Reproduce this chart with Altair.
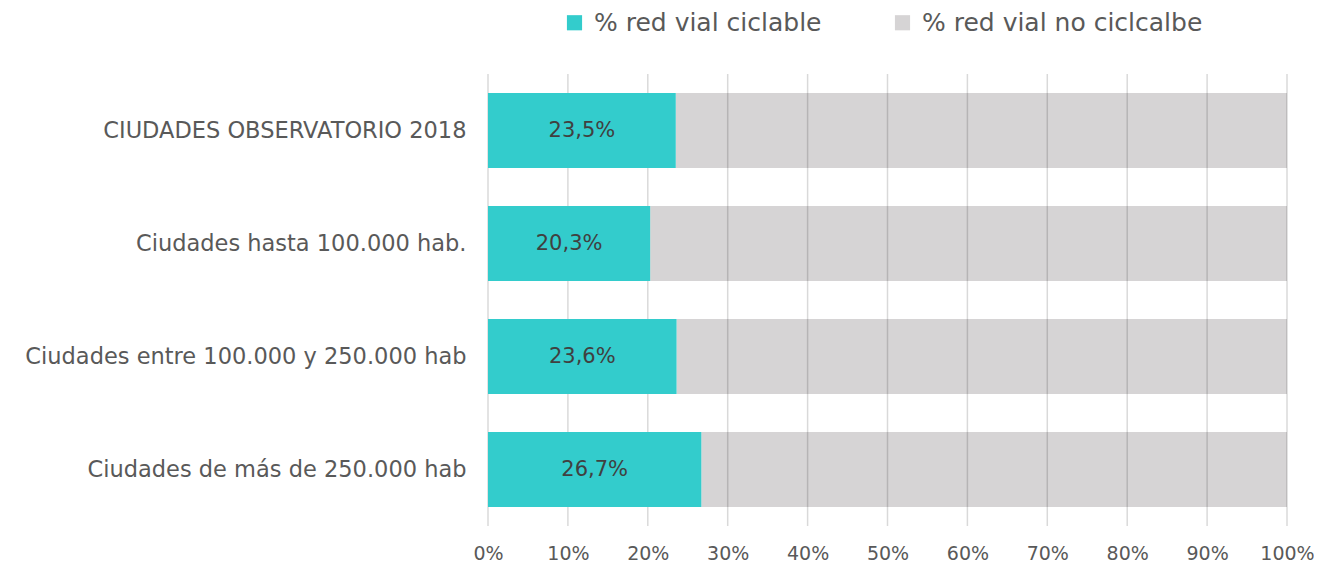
import altair as alt
import pandas as pd

categories = [
    "CIUDADES OBSERVATORIO 2018",
    "Ciudades hasta 100.000 hab.",
    "Ciudades entre 100.000 y 250.000 hab",
    "Ciudades de más de 250.000 hab",
]
ciclable = [23.5, 20.3, 23.6, 26.7]
series_names = ["% red vial ciclable", "% red vial no ciclcalbe"]
labels = ["23,5%", "20,3%", "23,6%", "26,7%"]
grid_ticks = [0, 10, 20, 30, 40, 50, 60, 70, 80, 90, 100]

FONT = "DejaVu Sans"
TEAL = "#33cccc"
GRAY = "#d6d4d5"

rows = []
for c, v, l in zip(categories, ciclable, labels):
    rows.append({"cat": c, "series": series_names[0], "start": 0.0, "end": v, "mid": v / 2, "label": l})
    rows.append({"cat": c, "series": series_names[1], "start": v, "end": 100.0, "mid": None, "label": ""})
df = pd.DataFrame(rows)
grid_df = pd.DataFrame({"t": grid_ticks})

xscale = alt.Scale(domain=[0, 100], nice=False, zero=True)
yscale = alt.Scale(domain=categories, paddingInner=0.336, paddingOuter=0.168)
color = alt.Color(
    "series:N",
    scale=alt.Scale(domain=series_names, range=[TEAL, GRAY]),
    legend=alt.Legend(
        title=None, orient="none", direction="horizontal",
        legendX=74, legendY=-64,
        symbolType="square", symbolSize=230, symbolStrokeWidth=0,
        labelFontSize=25, labelFont=FONT, labelColor="#595959",
        labelLimit=500, columnPadding=68, labelOffset=7,
    ),
)

base = alt.Chart(df)

gray = base.transform_filter(alt.datum.series == series_names[1]).mark_bar(cornerRadius=0).encode(
    x=alt.X("start:Q", scale=xscale, axis=alt.Axis(
        values=grid_ticks, labelExpr="datum.value + '%'", grid=False, domain=False, ticks=False,
        labelFlush=False, labelFontSize=19, labelFont=FONT, labelColor="#595959",
        labelPadding=18, title=None)),
    x2="end:Q",
    y=alt.Y("cat:N", scale=yscale, sort=categories, axis=alt.Axis(
        domain=False, ticks=False, grid=False, labelFontSize=22.5, labelFont=FONT,
        labelColor="#595959", labelPadding=22, labelLimit=600, title=None)),
    color=color,
)

grid = alt.Chart(grid_df).mark_rule(color="#000000", opacity=0.15, strokeWidth=1.5).encode(
    x=alt.X("t:Q", scale=xscale),
    y=alt.value(0),
    y2=alt.value(452),
)

teal = base.transform_filter(alt.datum.series == series_names[0]).mark_bar().encode(
    x=alt.X("start:Q", scale=xscale),
    x2="end:Q",
    y=alt.Y("cat:N", scale=yscale, sort=categories),
    color=color,
)

text = base.transform_filter(alt.datum.series == series_names[0]).mark_text(
    font=FONT, fontSize=21, color="#404040"
).encode(
    x=alt.X("mid:Q", scale=xscale),
    y=alt.Y("cat:N", scale=yscale, sort=categories),
    text="label:N",
)

chart = alt.layer(gray, grid, teal, text).properties(
    width=799, height=452,
    autosize=alt.AutoSizeParams(type="none"),
    padding={"left": 480, "top": 66, "right": 27, "bottom": 42},
).configure_view(stroke=None)

chart.save("out.html", embed_options={"renderer": "svg", "actions": False})
